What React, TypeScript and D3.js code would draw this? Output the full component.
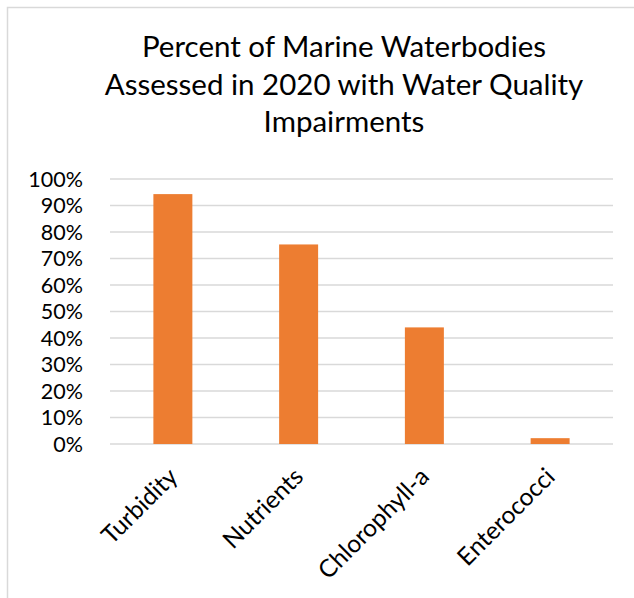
import React from "react";
import * as d3 from "d3";

const categories = ["Turbidity", "Nutrients", "Chlorophyll-a", "Enterococci"];
const values = [0.943, 0.753, 0.44, 0.022];
const yTicks = [0, 0.1, 0.2, 0.3, 0.4, 0.5, 0.6, 0.7, 0.8, 0.9, 1.0];
const titleLines = [
  "Percent of Marine Waterbodies",
  "Assessed in 2020 with Water Quality",
  "Impairments",
];

const W = 634;
const H = 598;
const FONT = "Lato, 'Open Sans', sans-serif";

export default function App() {
  const x = d3.scaleBand<string>().domain(categories).range([110, 613]).paddingInner(0.69).paddingOuter(0.345);
  const y = d3.scaleLinear().domain([0, 1]).range([444, 179]);
  const fmt = d3.format(".0%");

  return (
    <svg
      width={W}
      height={H}
      style={{ position: "absolute", left: 0, top: 0, background: "#fff" }}
      fontFamily={FONT}
    >
      {/* chart border */}
      <rect x={7.5} y={7.5} width={W + 40} height={H + 40} fill="#fff" stroke="#d9d9d9" strokeWidth={1.5} />
      {/* title */}
      <g fill="#000" fontSize={29.5} textAnchor="middle">
        {titleLines.map((t, i) => (
          <text key={i} x={344} y={57 + i * 37.5}>
            {t}
          </text>
        ))}
      </g>
      {/* gridlines */}
      <g stroke="#d9d9d9" strokeWidth={1.5}>
        {yTicks.map((t) => (
          <line key={t} x1={110} x2={613} y1={y(t)} y2={y(t)} />
        ))}
      </g>
      {/* y labels */}
      <g fill="#000" fontSize={21.5} textAnchor="end">
        {yTicks.map((t) => (
          <text key={t} x={83} y={y(t)} dy="0.36em">
            {fmt(t)}
          </text>
        ))}
      </g>
      {/* bars */}
      <g fill="#ED7D31">
        {categories.map((c, i) => (
          <rect key={c} x={x(c)} y={y(values[i])} width={x.bandwidth()} height={y(0) - y(values[i])} />
        ))}
      </g>
      {/* x labels */}
      <g fill="#000" fontSize={24.5} textAnchor="end">
        {categories.map((c) => {
          const cx = (x(c) as number) + x.bandwidth() / 2;
          return (
            <text key={c} transform={`translate(${cx},${472}) rotate(-45)`} dy="0.36em">
              {c}
            </text>
          );
        })}
      </g>
    </svg>
  );
}
